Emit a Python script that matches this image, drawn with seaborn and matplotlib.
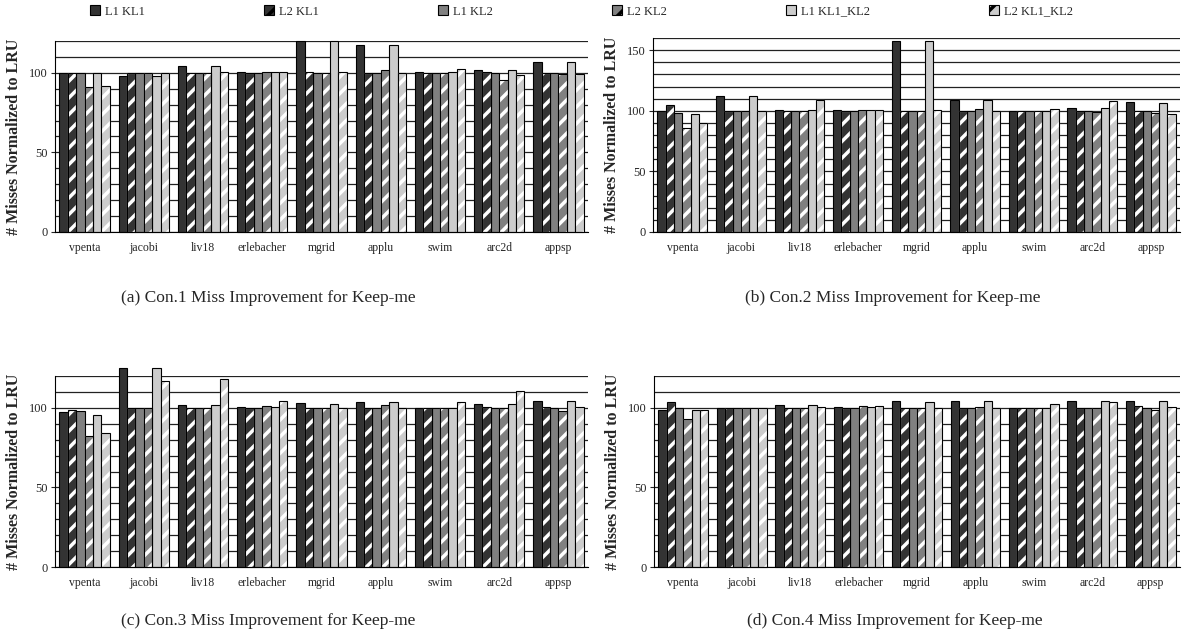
import pandas as pd
import seaborn as sns
import matplotlib.pyplot as plt
from matplotlib.patches import Patch, Rectangle

benchmarks = ["vpenta", "jacobi", "liv18", "erlebacher", "mgrid",
              "applu", "swim", "arc2d", "appsp"]
series = ["L1 KL1", "L2 KL1", "L1 KL2", "L2 KL2", "L1 KL1_KL2", "L2 KL1_KL2"]
colors = ["#333333", "#333333", "#808080", "#808080", "#cccccc", "#cccccc"]
hatched = [False, True, False, True, False, True]

# one row per benchmark, columns in the order of `series`
con1 = [
    [100, 100, 100, 91, 100, 92],
    [98, 100, 100, 100, 98, 100],
    [104, 100, 100, 100, 104, 100.8],
    [100.8, 100, 100, 100.6, 100.6, 100.8],
    [120, 100.3, 100, 100, 120, 100.4],
    [117.2, 100, 100, 101.9, 117.2, 100],
    [100.8, 100, 100, 100, 100.8, 102.3],
    [101.9, 100.2, 100, 95.2, 101.9, 98.5],
    [106.7, 100, 100, 99, 106.5, 99],
]
con2 = [
    [100, 104.7, 97.8, 86, 97.2, 90],
    [112.4, 100, 100, 100, 112.4, 100],
    [101, 100, 100, 100, 101, 108.5],
    [100.8, 100, 100, 100.5, 100.5, 100.5],
    [157.6, 100, 100, 100, 157.6, 100.5],
    [108.8, 100, 100, 101.7, 108.8, 100],
    [100, 100, 100, 100, 100, 101.6],
    [102.5, 99.5, 100, 99, 102.5, 107.7],
    [107, 100, 100, 98, 106.6, 97.5],
]
con3 = [
    [97.5, 98.7, 97.9, 82, 95.8, 84.2],
    [125, 100, 100, 100, 125, 116.7],
    [101.5, 100, 100, 100, 101.5, 118.4],
    [100.8, 100, 100, 101.3, 100.4, 104.6],
    [102.9, 100, 100, 100, 102.7, 100],
    [103.6, 100, 100, 101.7, 103.6, 100],
    [100, 100, 100, 100, 100, 103.4],
    [102.5, 100.6, 100, 100, 102.5, 110.8],
    [104.2, 100.6, 100, 98.1, 104, 100.4],
]
con4 = [
    [98.9, 103.6, 100, 93.2, 98.5, 98.7],
    [100, 100, 100, 100, 100, 100],
    [101.5, 100, 100, 100, 101.5, 100.8],
    [100.6, 99.6, 100, 101, 100.6, 101],
    [104, 100, 100, 100, 103.8, 100.2],
    [104.4, 100, 100, 100.6, 104.4, 100],
    [100, 100, 100, 100, 100, 102.5],
    [104.6, 100, 100, 100, 104.6, 103.8],
    [104.4, 101, 100, 98.7, 104.4, 100.6],
]
captions = ["(a) Con.1 Miss Improvement for Keep-me",
            "(b) Con.2 Miss Improvement for Keep-me",
            "(c) Con.3 Miss Improvement for Keep-me",
            "(d) Con.4 Miss Improvement for Keep-me"]
ymax = [120, 160, 120, 120]
yticks = [[0, 50, 100], [0, 50, 100, 150], [0, 50, 100], [0, 50, 100]]

sns.set_style("white")
plt.rcParams["font.family"] = ["Liberation Serif", "DejaVu Serif"]
plt.rcParams["hatch.linewidth"] = 2.5


def white_hatch(ax, p):
    p.set_hatch("//")
    if hasattr(p, "set_hatchcolor"):
        p.set_hatchcolor("white")
    else:
        p.set_edgecolor("white")
        ax.add_patch(Rectangle(p.get_xy(), p.get_width(), p.get_height(),
                               fill=False, ec="black", lw=0.8, clip_on=False))


def make_df(rows):
    recs = []
    for b, vals in zip(benchmarks, rows):
        for s, v in zip(series, vals):
            recs.append({"bench": b, "series": s, "value": v})
    return pd.DataFrame(recs)


fig = plt.figure(figsize=(11.82, 6.40), dpi=100)
boxes = [[0.0465, 0.6375, 0.451, 0.2985],
         [0.5525, 0.6375, 0.4459, 0.303],
         [0.0465, 0.114, 0.451, 0.2985],
         [0.5533, 0.114, 0.4450, 0.2985]]
cap_pos = [(0.227, 0.535), (0.755, 0.535), (0.227, 0.03), (0.757, 0.03)]

for k, data in enumerate([con1, con2, con3, con4]):
    ax = fig.add_axes(boxes[k])
    df = make_df(data)
    sns.barplot(data=df, x="bench", y="value", hue="series",
                order=benchmarks, hue_order=series, palette=colors,
                width=0.85, gap=0, edgecolor="black", linewidth=0.8,
                saturation=1, legend=False, ax=ax)
    for i, cont in enumerate(ax.containers):
        for p in cont.patches:
            p.set_clip_on(False)
            if hatched[i]:
                white_hatch(ax, p)
    ax.set_xlim(-0.5, 8.5)
    ax.set_ylim(0, ymax[k])
    ax.set_yticks(yticks[k])
    ax.set_yticks(range(0, ymax[k] + 1, 10), minor=True)
    ax.set_axisbelow(True)
    ax.grid(True, axis="y", which="both", color="#222222", lw=0.9)
    ax.grid(False, axis="x")
    for side in ["top", "right"]:
        ax.spines[side].set_visible(False)
    ax.spines["left"].set_color("black")
    ax.spines["bottom"].set_color("black")
    ax.tick_params(axis="y", which="major", length=3, width=0.8,
                   labelsize=9, left=True, pad=2)
    ax.tick_params(axis="y", which="minor", length=0)
    ax.tick_params(axis="x", length=0, labelsize=8.5, pad=7)
    ax.set_xlabel("")
    ax.set_ylabel("# Misses Normalized to LRU", fontsize=11.5,
                  fontweight="bold", labelpad=5)
    fig.text(cap_pos[k][0], cap_pos[k][1], captions[k], ha="center",
             va="center", fontsize=12.5)

handles = []
for c, h in zip(colors, hatched):
    p = Patch(facecolor=c, edgecolor="black", lw=0.8, hatch="//" if h else None)
    if h:
        if hasattr(p, "set_hatchcolor"):
            p.set_hatchcolor("white")
    handles.append(p)

fig.legend(handles, series, loc="lower left", ncol=6, mode="expand",
           bbox_to_anchor=(0.067, 0.955, 0.85, 0.04), frameon=False,
           fontsize=9, handlelength=0.8, handleheight=0.8, handletextpad=0.4)

plt.savefig("out.png", dpi=100)
